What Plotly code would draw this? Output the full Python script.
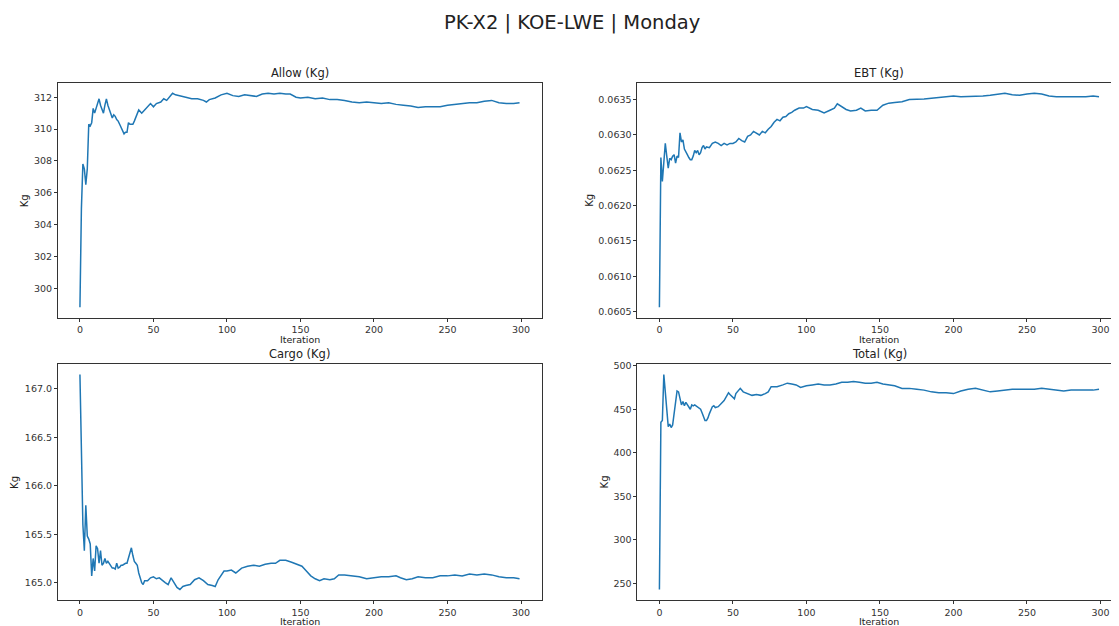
import plotly.graph_objects as go

# ---------------- data ----------------
allow_x = [0,1,2,3,4,5,6,7,8,9,10,11,12,13,14,15,16,17,18,19,20,21,22,23,24,25,26,27,28,29,30,31,32,33,34,35,36,37,38,39,40,41,42,44,46,48,50,52,55,57,59,61,63,65,68,72,76,80,84,86,88,92,96,100,104,108,112,116,120,124,128,132,136,140,143,147,150,155,160,165,170,175,180,185,190,195,200,205,210,215,220,225,230,235,240,245,250,255,260,265,270,275,280,285,290,295,299]
allow_y = [298.8,305.0,307.8,307.5,306.5,307.5,310.3,310.2,310.4,311.3,311.0,311.3,311.5,311.9,311.5,311.2,311.0,311.5,311.9,311.5,311.2,311.0,310.7,310.9,310.8,310.6,310.5,310.3,310.1,309.8,309.7,309.8,309.8,310.4,310.3,310.3,310.3,310.5,310.7,311.0,311.2,311.1,311.0,311.2,311.4,311.6,311.4,311.6,311.7,311.9,311.8,312.0,312.25,312.15,312.1,312.0,311.9,311.9,311.8,311.7,311.85,311.95,312.15,312.25,312.1,312.05,312.15,312.1,312.05,312.2,312.25,312.2,312.25,312.2,312.2,312.0,311.95,312.0,311.9,311.95,311.85,311.85,311.8,311.7,311.65,311.7,311.65,311.6,311.65,311.55,311.5,311.45,311.35,311.4,311.4,311.4,311.5,311.55,311.6,311.65,311.65,311.75,311.8,311.65,311.6,311.6,311.65]

ebt_x = [0,1,2,3,4,5,6,7,8,9,10,11,12,13,14,15,16,17,18,19,20,21,22,23,24,25,26,27,28,29,30,31,32,34,36,38,40,42,44,46,48,50,52,54,56,58,60,62,64,66,68,70,72,74,76,78,80,82,84,86,88,90,92,95,98,100,104,108,112,116,119,121,124,127,130,134,137,140,144,148,152,156,160,165,170,175,180,185,190,195,200,205,210,215,220,225,230,235,240,245,250,255,260,265,270,275,280,285,290,295,299]
ebt_y = [0.06056,0.06268,0.06234,0.0627,0.06288,0.0627,0.06253,0.06267,0.06265,0.0627,0.06272,0.0626,0.0627,0.06268,0.06303,0.0629,0.06293,0.0628,0.06275,0.06272,0.06268,0.06265,0.06265,0.0627,0.06278,0.06275,0.06278,0.06272,0.06275,0.06282,0.06285,0.0628,0.06283,0.06282,0.06288,0.0629,0.06288,0.06285,0.06288,0.06286,0.06288,0.06288,0.0629,0.06295,0.06292,0.0629,0.06298,0.063,0.06305,0.06302,0.063,0.06305,0.06303,0.06308,0.06312,0.06318,0.06322,0.0632,0.06325,0.06326,0.0633,0.06332,0.06335,0.06338,0.06338,0.0634,0.06336,0.06335,0.06331,0.06335,0.06338,0.06344,0.0634,0.06336,0.06334,0.06335,0.06338,0.06334,0.06335,0.06335,0.06342,0.06345,0.06346,0.06347,0.0635,0.0635,0.06351,0.06352,0.06353,0.06355,0.06355,0.06354,0.06354,0.06355,0.06355,0.06356,0.06357,0.06359,0.06357,0.06356,0.06358,0.06359,0.06358,0.06355,0.06354,0.06354,0.06353,0.06353,0.06354,0.06355,0.06354]

cargo_x = [0,1,2,3,4,5,6,7,8,9,10,11,12,13,14,15,16,17,18,19,20,21,22,23,24,25,26,27,28,29,30,31,32,33,34,35,36,37,38,39,40,41,42,43,44,46,48,50,52,54,56,58,60,62,64,66,68,70,72,75,78,81,84,87,90,92,94,96,98,100,103,106,110,114,118,122,126,130,133,136,140,144,148,151,154,157,160,163,166,170,173,176,180,185,190,195,200,205,210,215,218,222,226,230,235,240,245,250,255,260,265,270,275,280,285,290,295,299]
cargo_y = [167.15,166.3,165.6,165.33,165.8,165.48,165.45,165.4,165.07,165.25,165.12,165.38,165.35,165.2,165.33,165.18,165.2,165.25,165.2,165.22,165.2,165.18,165.15,165.15,165.14,165.2,165.15,165.16,165.18,165.18,165.19,165.2,165.2,165.25,165.3,165.36,165.28,165.22,165.2,165.18,165.1,165.05,165.0,164.98,165.02,165.02,165.05,165.06,165.04,165.05,165.02,165.0,164.98,165.05,165.0,164.95,164.93,164.96,164.97,164.98,165.03,165.05,165.02,164.98,164.97,164.96,165.03,165.08,165.12,165.12,165.13,165.1,165.15,165.17,165.18,165.17,165.19,165.2,165.2,165.23,165.23,165.21,165.19,165.17,165.12,165.07,165.04,165.02,165.04,165.03,165.04,165.08,165.08,165.07,165.06,165.04,165.05,165.06,165.06,165.07,165.05,165.03,165.04,165.06,165.05,165.05,165.07,165.07,165.08,165.07,165.09,165.08,165.09,165.08,165.06,165.05,165.05,165.04]

total_x = [0,1,2,3,4,5,6,7,8,9,10,11,12,13,14,15,16,17,18,19,20,21,22,23,24,25,26,27,28,29,30,31,32,33,34,35,36,37,38,40,42,44,46,47,48,50,51,52,54,55,57,60,63,66,69,72,74,76,80,84,87,90,93,96,100,104,108,112,116,120,124,128,132,136,140,144,148,152,156,160,165,170,175,180,185,190,195,200,205,210,215,220,225,230,235,240,245,250,255,260,265,270,275,280,285,290,295,299]
total_y = [243,435,437,490,470,450,430,433,429,432,445,460,471,470,462,455,459,454,458,455,452,450,455,454,455,454,453,452,450,446,440,437,437,440,445,450,453,454,452,453,456,460,466,469,467,463,462,468,472,474,470,468,466,467,466,468,470,476,476,478,480,479,478,475,477,478,479,478,478,479,481,481,482,481,480,480,481,479,478,477,474,474,473,472,470,469,469,468,471,473,474,472,470,471,472,473,473,473,473,474,473,472,471,472,472,472,472,473]

titles = ["Allow (Kg)", "EBT (Kg)", "Cargo (Kg)", "Total (Kg)"]
main_title = "PK-X2 | KOE-LWE | Monday"
x_label = "Iteration"
y_label = "Kg"

# ---------------- figure ----------------
OFF = 8                      # page body margin
W, H = 1119 - OFF, 626 - OFF
FONT = "DejaVu Sans"
LINE = "#1f77b4"


def px(x):
    return (x - OFF) / W


def py(y):
    return 1 - (y - OFF) / H


series = [(allow_x, allow_y), (ebt_x, ebt_y), (cargo_x, cargo_y), (total_x, total_y)]
LX0, LX1, RX0 = 58, 542, 638
TOP = [(79, 316), (79, 316), (362, 600), (362, 600)]
xdoms = [[px(LX0), px(LX1)], [px(RX0), 1.0], [px(LX0), px(LX1)], [px(RX0), 1.0]]
ydoms = [[py(b), py(t)] for t, b in TOP]
tickfmts = [".0f", ".4f", ".1f", ".0f"]
dticks = [2, 0.0005, 0.5, 50]
ylab_x = [24, 590, 15, 605]

fig = go.Figure()
layout = dict(
    width=W, height=H,
    margin=dict(l=0, r=0, t=0, b=0),
    paper_bgcolor="white", plot_bgcolor="white",
    showlegend=False,
    font=dict(family=FONT, size=10, color="#222"),
)
annotations = [dict(text=main_title, x=px(573), y=py(19), xref="paper", yref="paper",
                    showarrow=False, font=dict(size=19.5, color="#222"),
                    xanchor="center", yanchor="middle")]

for i, ((xs, ys), title) in enumerate(zip(series, titles)):
    n = "" if i == 0 else str(i + 1)
    fig.add_trace(go.Scatter(x=xs, y=ys, mode="lines",
                             line=dict(color=LINE, width=1.5),
                             xaxis="x" + n, yaxis="y" + n, hoverinfo="skip"))
    xmin, xmax = 0, 299
    xpad = 0.05 * (xmax - xmin)
    xr = [xmin - xpad, xmax + xpad]
    if i % 2 == 1:
        # right column is cut by the page edge
        pxu = (1119 - RX0)
        full = (LX1 - LX0)
        xr = [xmin - xpad, xmin - xpad + (xr[1] - xr[0]) * pxu / full]
    ymin, ymax = min(ys), max(ys)
    ypad = 0.05 * (ymax - ymin)
    yr = [ymin - ypad, ymax + ypad]
    axcommon = dict(showline=True, linecolor="#333", linewidth=1, mirror=True,
                    ticks="outside", ticklen=3, tickcolor="#333", tickwidth=1,
                    showgrid=False, zeroline=False,
                    tickfont=dict(size=9.5, color="#333"))
    layout["xaxis" + n] = dict(domain=xdoms[i], range=xr, anchor="y" + n,
                               tickmode="linear", tick0=0, dtick=50, **axcommon)
    layout["yaxis" + n] = dict(domain=ydoms[i], range=yr, anchor="x" + n,
                               tickmode="linear", tick0=0, dtick=dticks[i],
                               tickformat=tickfmts[i], **axcommon)
    cx = (LX0 + LX1) / 2 if i % 2 == 0 else RX0 + (LX1 - LX0) / 2
    t, b = TOP[i]
    annotations.append(dict(text=title, xref="paper", yref="paper",
                            x=px(cx), y=py(t - 10), showarrow=False,
                            xanchor="center", yanchor="middle",
                            font=dict(size=11.5, color="#222")))
    annotations.append(dict(text=x_label, xref="paper", yref="paper",
                            x=px(cx), y=py(b + (22 if i < 2 else 21)), showarrow=False,
                            xanchor="center", yanchor="middle",
                            font=dict(size=9.5, color="#222")))
    annotations.append(dict(text=y_label, xref="paper", yref="paper",
                            x=px(ylab_x[i]), y=py((t + b) / 2), showarrow=False,
                            xanchor="center", yanchor="middle", textangle=-90,
                            font=dict(size=10, color="#222")))

layout["annotations"] = annotations
fig.update_layout(**layout)
fig.write_html("out.html")
